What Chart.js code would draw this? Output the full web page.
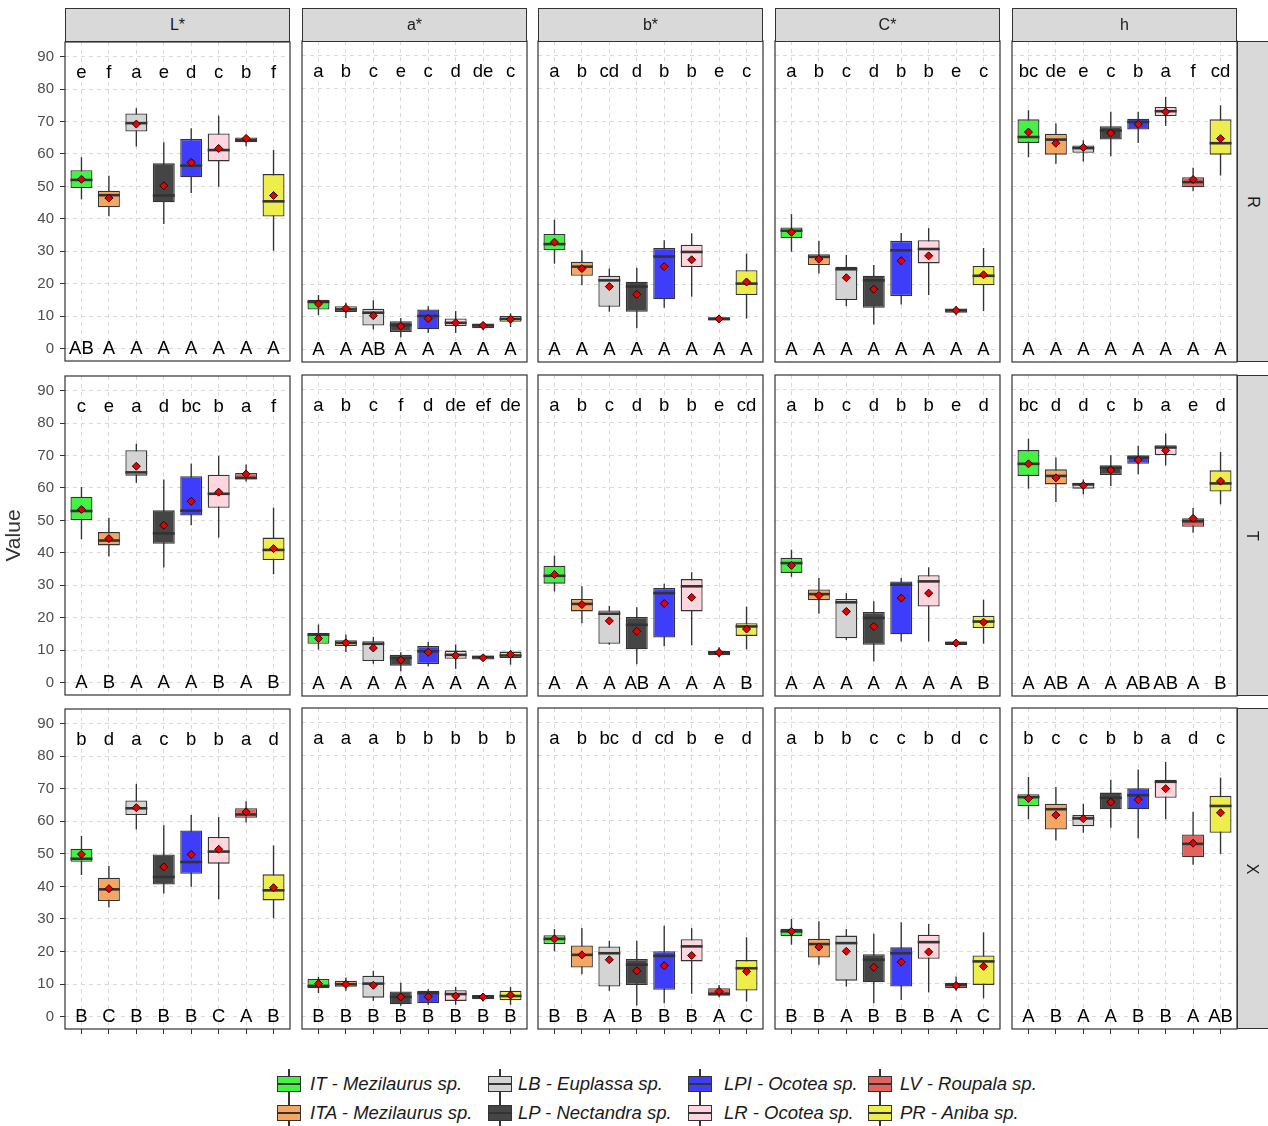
<!DOCTYPE html>
<html>
<head>
<meta charset="utf-8">
<script src="https://cdn.jsdelivr.net/npm/chart.js@4.4.0/dist/chart.umd.min.js"></script>
<style>
  body { margin: 0; background: #fff; font-family: "Liberation Sans", Arial, sans-serif; }
  #wrap { position: relative; width: 1268px; height: 1126px; overflow: hidden; background: #fff; }
  #wrap canvas { position: absolute; }
  .strip { position: absolute; box-sizing: border-box; background: #d9d9d9; border: 1px solid #333;
           color: #1a1a1a; font-size: 16px; display: flex; align-items: center; justify-content: center; }
  .strip.side span { display: inline-block; transform: rotate(90deg); }
  .strip.side { justify-content: flex-start; padding-left: 9px; }
  .lg-key { position: absolute; width: 24px; height: 30px; }
  .lg-key .wh { position: absolute; left: 11.3px; top: 0; width: 1.4px; height: 30px; background: #333; }
  .lg-key .bx { position: absolute; left: 0; top: 7px; width: 24px; height: 16px; box-sizing: border-box; border: 1.4px solid #333; }
  .lg-key .md { position: absolute; left: 0; top: 14px; width: 24px; height: 2.2px; background: #333; }
  .lg-text { position: absolute; font-size: 18.5px; font-style: italic; color: #1a1a1a; white-space: nowrap; line-height: 30px; }
</style>
</head>
<body>
<div id="wrap"></div>
<script>
// species (fill order) and their box colours
const species = ['IT - Mezilaurus sp.', 'ITA - Mezilaurus sp.', 'LB - Euplassa sp.', 'LP - Nectandra sp.',
                 'LPI - Ocotea sp.', 'LR - Ocotea sp.', 'LV - Roupala sp.', 'PR - Aniba sp.'];
const boxColors = ['#44f244', '#f5a662', '#d4d4d4', '#454545', '#3d3dfa', '#ffd6de', '#e5625c', '#eded4c'];
const variables = ['L*', 'a*', 'b*', 'C*', 'h'];
const treatments = ['R', 'T', 'X'];
const yTicks = [0, 10, 20, 30, 40, 50, 60, 70, 80, 90];

// each entry: [min, q1, median, q3, max, mean]
const R_L = [[46.0, 49.5, 52.0, 55.0, 59.0, 52.2], [40.8, 43.6, 47.3, 48.7, 53.3, 46.4], [62.3, 66.9, 69.5, 72.5, 74.1, 69.2], [38.4, 45.1, 47.2, 57.1, 63.6, 50.2],
             [48.0, 52.8, 56.4, 64.6, 67.9, 57.4], [49.9, 57.7, 61.2, 66.3, 71.8, 61.7], [62.4, 63.6, 64.2, 65.1, 65.8, 64.8], [30.2, 40.7, 45.4, 53.8, 61.2, 47.2]];
const R_a = [[10.6, 12.3, 14.6, 15.3, 16.7, 14.0], [9.7, 11.5, 12.3, 13.3, 14.4, 12.6], [6.2, 7.4, 11.3, 12.5, 15.1, 10.4], [3.8, 5.4, 7.5, 8.7, 9.7, 7.2],
             [5.1, 6.2, 10.3, 12.3, 13.3, 9.5], [5.1, 7.2, 8.2, 9.5, 11.8, 8.2], [5.9, 6.5, 7.4, 8.0, 8.4, 7.4], [6.9, 8.5, 9.4, 10.3, 11.1, 9.3]];
const R_b = [[26.3, 30.4, 32.3, 35.4, 39.8, 32.9], [19.7, 22.6, 25.4, 26.9, 30.4, 24.8], [11.6, 13.1, 21.2, 22.6, 24.8, 19.3], [6.5, 11.6, 19.3, 20.8, 25.1, 16.9],
             [12.8, 15.4, 28.5, 31.1, 33.5, 25.4], [16.2, 25.3, 29.9, 32.1, 35.6, 27.5], [8.2, 8.9, 9.4, 9.9, 10.2, 9.4], [9.5, 16.7, 20.2, 24.3, 29.4, 20.7]];
const R_C = [[30.0, 34.1, 36.4, 37.4, 41.5, 35.9], [23.3, 25.9, 28.4, 29.2, 33.3, 27.7], [13.3, 15.2, 24.6, 25.4, 29.0, 22.0], [7.7, 12.8, 21.2, 22.6, 25.9, 18.5],
             [13.8, 16.4, 30.4, 33.3, 35.7, 27.2], [16.7, 26.4, 30.8, 33.5, 37.2, 28.7], [10.5, 11.3, 12.0, 12.6, 13.3, 12.0], [11.8, 19.7, 22.6, 25.6, 31.1, 22.9]];
const R_h = [[58.9, 63.3, 65.1, 70.5, 73.3, 66.6], [56.9, 59.7, 64.3, 66.1, 69.2, 63.2], [57.6, 60.3, 61.7, 62.5, 64.1, 61.9], [59.2, 64.3, 67.1, 68.4, 72.8, 66.3],
             [63.3, 67.4, 69.7, 70.7, 72.8, 69.0], [68.5, 71.5, 73.0, 74.3, 77.4, 72.8], [48.5, 49.7, 51.3, 52.8, 55.7, 52.1], [53.3, 59.7, 63.2, 70.5, 74.8, 64.6]];

const T_L = [[44.2, 50.1, 52.9, 57.3, 60.3, 53.4], [38.9, 42.3, 43.8, 46.4, 50.8, 44.4], [61.6, 63.8, 64.8, 71.6, 73.6, 66.7], [35.5, 42.8, 46.0, 53.1, 62.6, 48.5],
             [48.5, 51.5, 53.0, 63.6, 67.5, 55.9], [44.7, 53.9, 58.2, 64.1, 69.9, 58.7], [62.0, 62.6, 63.1, 64.6, 67.2, 64.3], [33.4, 37.8, 40.9, 44.7, 53.9, 41.3]];
const T_a = [[10.4, 12.2, 15.0, 15.5, 18.1, 13.8], [9.7, 11.5, 12.5, 13.3, 15.0, 12.5], [6.1, 6.9, 12.2, 13.0, 14.3, 10.9], [3.8, 5.5, 7.9, 8.8, 9.6, 7.2],
             [5.3, 6.0, 9.9, 11.5, 12.7, 9.6], [4.5, 7.6, 8.8, 10.1, 12.0, 8.6], [7.2, 7.4, 8.1, 8.6, 8.7, 7.9], [5.8, 7.8, 8.6, 9.8, 10.2, 8.9]];
const T_b = [[28.2, 30.6, 33.0, 36.1, 39.2, 33.4], [18.5, 22.1, 24.4, 25.9, 29.8, 24.2], [11.9, 12.2, 21.4, 22.4, 23.8, 19.2], [5.9, 10.5, 18.0, 20.4, 23.4, 16.0],
             [11.4, 14.1, 27.7, 29.3, 30.6, 24.5], [11.7, 22.1, 29.8, 32.0, 34.1, 26.4], [8.1, 8.7, 9.5, 10.0, 11.1, 9.5], [10.5, 14.6, 17.5, 18.5, 23.6, 16.7]];
const T_C = [[32.7, 33.9, 36.9, 38.5, 41.0, 36.2], [21.4, 25.5, 27.4, 28.8, 32.3, 27.0], [13.4, 13.9, 24.9, 25.9, 27.7, 22.1], [6.8, 11.9, 20.1, 21.9, 25.2, 17.5],
             [12.9, 15.1, 30.3, 31.3, 32.3, 26.2], [12.9, 23.6, 31.3, 33.2, 35.6, 27.7], [11.4, 11.8, 12.4, 12.9, 13.1, 12.4], [12.2, 17.0, 19.0, 20.8, 25.7, 18.8]];
const T_h = [[59.7, 63.6, 67.3, 71.5, 75.0, 67.3], [55.6, 61.0, 63.6, 65.6, 69.2, 63.0], [57.9, 59.7, 61.0, 61.5, 62.5, 60.7], [60.5, 63.9, 66.1, 66.9, 69.9, 65.4],
             [64.1, 67.3, 69.2, 69.9, 72.8, 68.5], [66.8, 70.0, 72.3, 73.0, 76.6, 71.4], [46.2, 48.0, 49.7, 50.6, 53.8, 50.6], [54.9, 58.8, 61.3, 65.3, 70.9, 62.0]];

const X_L = [[43.5, 47.6, 48.5, 51.6, 55.5, 49.9], [33.5, 35.5, 39.1, 42.7, 46.3, 39.3], [57.5, 61.9, 64.0, 66.4, 71.5, 64.2], [37.8, 40.6, 42.9, 49.8, 58.8, 46.0],
             [39.9, 43.9, 47.5, 57.2, 61.9, 49.8], [36.0, 47.0, 50.7, 55.2, 61.3, 51.4], [59.6, 61.1, 62.1, 64.0, 66.2, 62.9], [30.2, 35.7, 38.8, 43.7, 52.6, 39.6]];
const X_a = [[7.2, 8.7, 9.4, 11.5, 12.2, 10.1], [7.9, 9.1, 9.9, 11.0, 12.0, 9.9], [4.8, 5.8, 10.1, 12.5, 14.0, 9.6], [3.3, 3.8, 6.0, 7.7, 10.4, 6.0],
             [3.6, 4.1, 7.2, 7.9, 8.4, 6.1], [3.6, 4.8, 6.9, 8.1, 9.1, 6.3], [4.6, 5.3, 6.0, 6.6, 6.9, 6.0], [3.6, 5.0, 6.3, 7.9, 9.1, 6.6]];
const X_b = [[20.0, 22.2, 23.8, 24.9, 26.8, 23.8], [13.0, 15.0, 18.9, 21.8, 27.1, 18.9], [7.9, 9.2, 19.4, 21.5, 23.2, 17.4], [3.4, 9.7, 15.9, 17.6, 23.2, 14.0],
             [4.1, 8.2, 18.6, 20.0, 27.8, 15.6], [7.0, 16.9, 21.5, 23.7, 27.1, 18.7], [5.9, 6.4, 7.0, 8.7, 9.7, 7.7], [4.6, 8.0, 14.8, 17.3, 24.3, 13.8]];
const X_C = [[22.0, 24.6, 26.1, 26.9, 29.9, 26.1], [15.9, 18.1, 22.2, 23.8, 29.2, 21.3], [9.2, 11.0, 22.5, 24.8, 26.8, 20.0], [4.1, 10.5, 17.4, 19.1, 25.4, 15.1],
             [5.1, 9.2, 19.4, 21.2, 28.9, 16.7], [7.4, 17.7, 22.8, 25.1, 28.4, 19.8], [7.9, 8.7, 9.7, 10.4, 12.3, 9.5], [5.6, 9.7, 16.9, 18.7, 25.8, 15.4]];
const X_h = [[60.4, 64.4, 67.2, 68.1, 73.4, 66.8], [53.9, 57.3, 63.5, 65.2, 70.3, 61.7], [56.3, 58.3, 60.7, 61.7, 65.2, 60.6], [57.8, 63.5, 67.0, 68.6, 72.5, 65.7],
             [54.6, 63.5, 67.8, 69.9, 75.7, 66.4], [60.4, 67.0, 71.9, 72.5, 78.0, 69.8], [46.5, 48.8, 52.9, 55.8, 62.7, 53.1], [49.8, 56.3, 64.5, 67.6, 73.2, 62.4]];

// letters: species groups (top, lowercase) and treatment groups (bottom, uppercase)
const R_L_top = ['e', 'f', 'a', 'e', 'd', 'c', 'b', 'f'];
const R_a_top = ['a', 'b', 'c', 'e', 'c', 'd', 'de', 'c'];
const R_b_top = ['a', 'b', 'cd', 'd', 'b', 'b', 'e', 'c'];
const R_C_top = ['a', 'b', 'c', 'd', 'b', 'b', 'e', 'c'];
const R_h_top = ['bc', 'de', 'e', 'c', 'b', 'a', 'f', 'cd'];
const T_L_top = ['c', 'e', 'a', 'd', 'bc', 'b', 'a', 'f'];
const T_a_top = ['a', 'b', 'c', 'f', 'd', 'de', 'ef', 'de'];
const T_b_top = ['a', 'b', 'c', 'd', 'b', 'b', 'e', 'cd'];
const T_C_top = ['a', 'b', 'c', 'd', 'b', 'b', 'e', 'd'];
const T_h_top = ['bc', 'd', 'd', 'c', 'b', 'a', 'e', 'd'];
const X_L_top = ['b', 'd', 'a', 'c', 'b', 'b', 'a', 'd'];
const X_a_top = ['a', 'a', 'a', 'b', 'b', 'b', 'b', 'b'];
const X_b_top = ['a', 'b', 'bc', 'd', 'cd', 'b', 'e', 'd'];
const X_C_top = ['a', 'b', 'b', 'c', 'c', 'b', 'd', 'c'];
const X_h_top = ['b', 'c', 'c', 'b', 'b', 'a', 'd', 'c'];

const R_L_bot = ['AB', 'A', 'A', 'A', 'A', 'A', 'A', 'A'];
const R_a_bot = ['A', 'A', 'AB', 'A', 'A', 'A', 'A', 'A'];
const R_b_bot = ['A', 'A', 'A', 'A', 'A', 'A', 'A', 'A'];
const R_C_bot = ['A', 'A', 'A', 'A', 'A', 'A', 'A', 'A'];
const R_h_bot = ['A', 'A', 'A', 'A', 'A', 'A', 'A', 'A'];
const T_L_bot = ['A', 'B', 'A', 'A', 'A', 'B', 'A', 'B'];
const T_a_bot = ['A', 'A', 'A', 'A', 'A', 'A', 'A', 'A'];
const T_b_bot = ['A', 'A', 'A', 'AB', 'A', 'A', 'A', 'B'];
const T_C_bot = ['A', 'A', 'A', 'A', 'A', 'A', 'A', 'B'];
const T_h_bot = ['A', 'AB', 'A', 'A', 'AB', 'AB', 'A', 'B'];
const X_L_bot = ['B', 'C', 'B', 'B', 'B', 'C', 'A', 'B'];
const X_a_bot = ['B', 'B', 'B', 'B', 'B', 'B', 'B', 'B'];
const X_b_bot = ['B', 'B', 'A', 'B', 'B', 'B', 'A', 'C'];
const X_C_bot = ['B', 'B', 'A', 'B', 'B', 'B', 'A', 'C'];
const X_h_bot = ['A', 'B', 'A', 'A', 'B', 'B', 'A', 'AB'];

const panelStats = [[R_L, R_a, R_b, R_C, R_h], [T_L, T_a, T_b, T_C, T_h], [X_L, X_a, X_b, X_C, X_h]];
const panelTop = [[R_L_top, R_a_top, R_b_top, R_C_top, R_h_top], [T_L_top, T_a_top, T_b_top, T_C_top, T_h_top], [X_L_top, X_a_top, X_b_top, X_C_top, X_h_top]];
const panelBot = [[R_L_bot, R_a_bot, R_b_bot, R_C_bot, R_h_bot], [T_L_bot, T_a_bot, T_b_bot, T_C_bot, T_h_bot], [X_L_bot, X_a_bot, X_b_bot, X_C_bot, X_h_bot]];

Chart.defaults.font.family = '"Liberation Sans", Arial, sans-serif';

const wrap = document.getElementById('wrap');
const colLeft = [65, 302, 538, 775, 1012];
const rowTop = [41, 375, 708];
const PW = 225, PH = 321, PAD = 14, AXW = 65;

// panel frame + group letters, positioned through the scales
const panelDecor = {
  id: 'panelDecor',
  afterDatasetsDraw(chart, args, opts) {
    const { ctx, chartArea: a, scales: { x, y } } = chart;
    ctx.save();
    ctx.font = '18.5px "Liberation Sans", Arial, sans-serif';
    ctx.fillStyle = '#000';
    ctx.textAlign = 'center';
    ctx.textBaseline = 'middle';
    opts.top.forEach((t, i) => ctx.fillText(t, x.getPixelForValue(i), y.getPixelForValue(85)));
    opts.bottom.forEach((t, i) => ctx.fillText(t, x.getPixelForValue(i), y.getPixelForValue(0)));
    ctx.strokeStyle = '#333';
    ctx.lineWidth = 1.2;
    ctx.strokeRect(a.left, a.top, a.width, a.height);
    ctx.restore();
  }
};

function makePanel(r, c) {
  const stats = panelStats[r][c];
  const isLeft = c === 0, isBottom = r === 2;
  const cv = document.createElement('canvas');
  const padL = isLeft ? 0 : PAD;
  const w = (isLeft ? AXW : padL) + PW + PAD;
  const h = PAD + PH + (isBottom ? 6 : 0) + PAD;
  cv.width = w; cv.height = h;
  cv.style.left = (colLeft[c] - (isLeft ? AXW : padL)) + 'px';
  cv.style.top = (rowTop[r] - PAD) + 'px';
  cv.style.width = w + 'px'; cv.style.height = h + 'px';
  wrap.appendChild(cv);

  const gridCommon = { color: '#d9d9d9', lineWidth: 1, tickLength: 5, tickColor: '#333', tickWidth: 1, tickBorderDash: [] };

  new Chart(cv, {
    type: 'bar',
    data: {
      datasets: [
        { type: 'scatter', order: 0, data: stats.map((s, i) => ({ x: i, y: s[5] })),
          pointStyle: 'rectRot', radius: 4, backgroundColor: '#e60000', borderColor: '#2a0000', borderWidth: 1 },
        { type: 'scatter', order: 1, data: stats.map((s, i) => ({ x: i, y: s[2] })),
          pointStyle: 'line', borderColor: '#333', borderWidth: 2.6,
          radius: ctx => { const sx = ctx.chart.scales.x; return sx.getPixelForValue(0.4) - sx.getPixelForValue(0); } },
        { type: 'bar', order: 2, grouped: false, data: stats.map((s, i) => ({ x: i, y: [s[1], s[3]] })),
          backgroundColor: boxColors, borderColor: '#333', borderWidth: 1.3, borderSkipped: false,
          barPercentage: 0.8, categoryPercentage: 1 },
        { type: 'bar', order: 3, grouped: false, data: stats.map((s, i) => ({ x: i, y: [s[0], s[4]] })),
          backgroundColor: '#333', borderWidth: 0, barPercentage: 0.05, categoryPercentage: 1 }
      ]
    },
    options: {
      responsive: false,
      animation: false,
      devicePixelRatio: 1,
      events: [],
      layout: { autoPadding: false, padding: { top: PAD, bottom: PAD, left: padL, right: PAD } },
      plugins: {
        legend: { display: false },
        tooltip: { enabled: false },
        panelDecor: { top: panelTop[r][c], bottom: panelBot[r][c] }
      },
      scales: {
        x: {
          type: 'linear', min: -0.6, max: 7.6, offset: false,
          afterBuildTicks: s => { s.ticks = species.map((_, i) => ({ value: i })); },
          afterFit: s => { s.height = isBottom ? 6 : 0; },
          ticks: { display: false },
          grid: Object.assign({ offset: false, drawTicks: isBottom }, gridCommon),
          border: { display: false, dash: [4, 4] }
        },
        y: {
          type: 'linear', min: -3.8, max: 94.5,
          afterBuildTicks: s => { s.ticks = yTicks.map(v => ({ value: v })); },
          afterFit: s => { s.width = isLeft ? AXW : 0; },
          ticks: { display: isLeft, color: '#4d4d4d', font: { size: 15 }, padding: 6 },
          grid: Object.assign({ drawTicks: isLeft }, gridCommon),
          border: { display: false, dash: [4, 4] },
          title: { display: isLeft && r === 1, text: 'Value', color: '#333', font: { size: 21 }, padding: { top: 2, bottom: 0 } }
        }
      }
    },
    plugins: [panelDecor]
  });
}

for (let r = 0; r < 3; r++) for (let c = 0; c < 5; c++) makePanel(r, c);

// facet strips
variables.forEach((v, c) => {
  const d = document.createElement('div');
  d.className = 'strip';
  d.style.left = colLeft[c] + 'px'; d.style.top = '8px';
  d.style.width = PW + 'px'; d.style.height = '34px';
  d.textContent = v;
  wrap.appendChild(d);
});
treatments.forEach((t, r) => {
  const d = document.createElement('div');
  d.className = 'strip side';
  d.style.left = (colLeft[4] + PW) + 'px'; d.style.top = rowTop[r] + 'px';
  d.style.width = '40px'; d.style.height = PH + 'px';
  d.innerHTML = '<span>' + t + '</span>';
  wrap.appendChild(d);
});

// legend (two rows, filled by column)
const keyX = [289, 500, 700, 880];
const textX = [310, 518, 724, 900];
const keyY = [1084, 1113];
species.forEach((name, i) => {
  const col = Math.floor(i / 2), row = i % 2;
  const key = document.createElement('div');
  key.className = 'lg-key';
  key.style.left = (keyX[col] - 12) + 'px';
  key.style.top = (keyY[row] - 15) + 'px';
  key.innerHTML = '<div class="wh"></div><div class="bx" style="background:' + boxColors[i] + '"></div><div class="md"></div>';
  wrap.appendChild(key);
  const txt = document.createElement('div');
  txt.className = 'lg-text';
  txt.style.left = textX[col] + 'px';
  txt.style.top = (keyY[row] - 15) + 'px';
  txt.textContent = name;
  wrap.appendChild(txt);
});
</script>
</body>
</html>
